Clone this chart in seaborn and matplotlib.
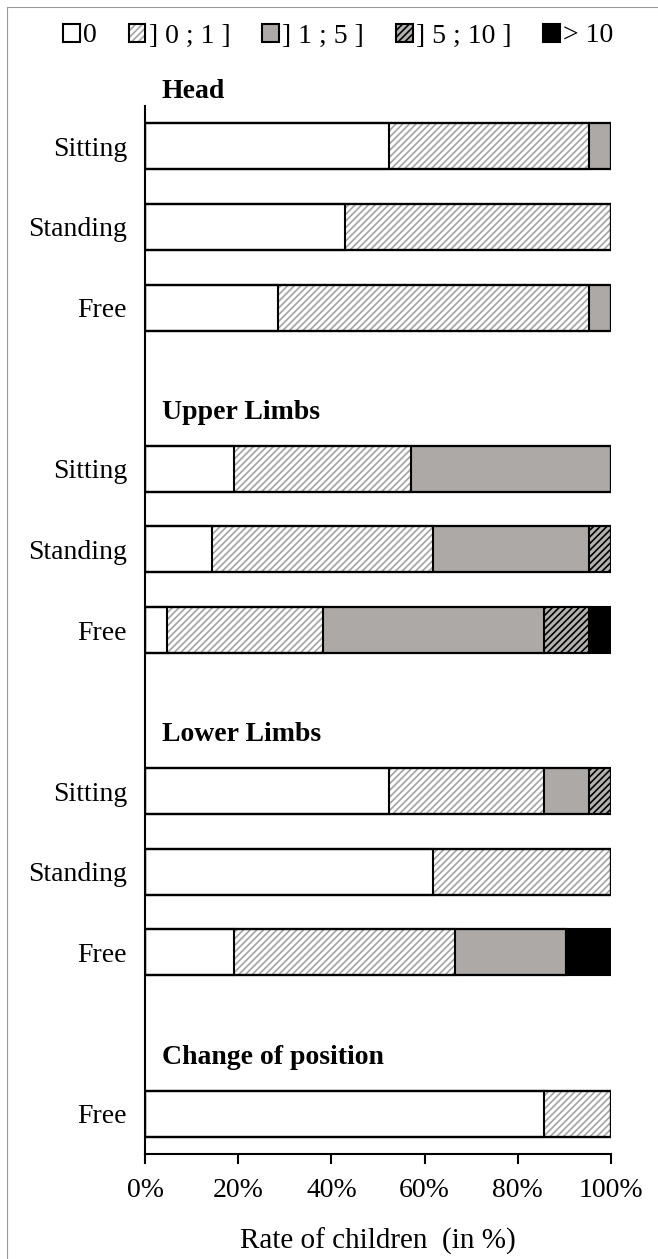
import numpy as np
import pandas as pd
import matplotlib
matplotlib.use("Agg")
import matplotlib.pyplot as plt
import seaborn as sns
from matplotlib.patches import Patch
from matplotlib.lines import Line2D
from matplotlib.ticker import PercentFormatter

# Data: share of children (in %) per class of duration
groups = ["Head", "Head", "Head", "Upper Limbs", "Upper Limbs", "Upper Limbs",
          "Lower Limbs", "Lower Limbs", "Lower Limbs", "Change of position"]
positions = ["Sitting", "Standing", "Free", "Sitting", "Standing", "Free",
             "Sitting", "Standing", "Free", "Free"]
zero = [52.4, 42.9, 28.6, 19.0, 14.3, 4.8, 52.4, 61.9, 19.0, 85.7]
up_to_1 = [42.8, 57.1, 66.6, 38.1, 47.6, 33.3, 33.3, 38.1, 47.6, 14.3]
one_to_5 = [4.8, 0.0, 4.8, 42.9, 33.3, 47.6, 9.5, 0.0, 23.8, 0.0]
five_to_10 = [0.0, 0.0, 0.0, 0.0, 4.8, 9.5, 4.8, 0.0, 0.0, 0.0]
over_10 = [0.0, 0.0, 0.0, 0.0, 0.0, 4.8, 0.0, 0.0, 9.6, 0.0]

class_labels = ["0", "] 0 ; 1 ]", "] 1 ; 5 ]", "] 5 ; 10 ]", "> 10"]
group_titles = ["Head", "Upper Limbs", "Lower Limbs", "Change of position"]

# styles per class: face colour, hatch, hatch colour
face = ["white", "white", "#ADA9A7", "#B4B2B0", "black"]
hatches = [None, "/////", None, "/////", None]
hatch_col = ["white", "#A3A3A3", "#ADA9A7", "black", "black"]

# slot names, with one empty slot between groups
slots = []
for i, (g, p) in enumerate(zip(groups, positions)):
    if i > 0 and g != groups[i - 1]:
        slots.append("gap_" + g)
    slots.append(g + " " + p)
row_slots = [g + " " + p for g, p in zip(groups, positions)]

df = pd.DataFrame({"slot": row_slots, "c0": zero, "c1": up_to_1,
                   "c2": one_to_5, "c3": five_to_10, "c4": over_10})
cum = df[["c0", "c1", "c2", "c3", "c4"]].cumsum(axis=1)
cum.columns = ["s0", "s1", "s2", "s3", "s4"]
df = pd.concat([df, cum], axis=1)

sns.set_theme(style="white")
plt.rcParams["font.family"] = ["Liberation Serif", "DejaVu Serif"]
plt.rcParams["hatch.linewidth"] = 1.2
plt.rcParams["text.color"] = "black"
plt.rcParams["axes.labelcolor"] = "black"
plt.rcParams["xtick.color"] = "black"
plt.rcParams["ytick.color"] = "black"

fig = plt.figure(figsize=(6.58, 12.59), dpi=100)
ax = fig.add_axes([145 / 658, 1 - 1154 / 1259, 466 / 658, (1154 - 106) / 1259])

bw = 0.57
# fills: largest cumulative first so each class covers the next
for k in range(4, -1, -1):
    sns.barplot(data=df, x="s%d" % k, y="slot", order=slots, orient="h",
                color=face[k], saturation=1, errorbar=None, width=bw,
                hatch=hatches[k], edgecolor=hatch_col[k], linewidth=0, ax=ax)
# outlines
for k in range(5):
    sns.barplot(data=df, x="s%d" % k, y="slot", order=slots, orient="h",
                fill=False, color="black", errorbar=None, width=bw,
                linewidth=1.5, ax=ax)

ax.set_xlim(0, 100)
ax.set_ylim(len(slots) - 0.5, -0.5)
ax.set_xticks([0, 20, 40, 60, 80, 100])
ax.xaxis.set_major_formatter(PercentFormatter(xmax=100, decimals=0))
ax.set_yticks(range(len(slots)))
ax.set_yticklabels(["" if s.startswith("gap_") else s.split(" ")[-1] for s in slots])
ax.set_ylabel("")
ax.set_xlabel("Rate of children  (in %)", fontsize=21, labelpad=18)
ax.tick_params(axis="y", length=0, pad=13, labelsize=20)
ax.tick_params(axis="x", direction="out", length=7, width=1.5, pad=10,
               labelsize=20, bottom=True, color="black")
for s in ["top", "right"]:
    ax.spines[s].set_visible(False)
for s in ["left", "bottom"]:
    ax.spines[s].set_color("black")
    ax.spines[s].set_linewidth(1.5)

# group titles
title_y = [-0.68] + [slots.index("gap_" + g) + 0.3 for g in group_titles[1:]]
for t, y in zip(group_titles, title_y):
    ax.text(3.6, y, t, fontsize=20, fontweight="bold", va="center", ha="left")

# legend
handles = []
for k in range(5):
    fill_p = Patch(facecolor=face[k], hatch=hatches[k], edgecolor=hatch_col[k], linewidth=0)
    edge_p = Patch(facecolor="none", edgecolor="black", linewidth=1.5)
    handles.append((fill_p, edge_p))
fig.legend(handles, class_labels, loc="center", bbox_to_anchor=(0.514, 1 - 36 / 1259),
           ncol=5, frameon=False, fontsize=20, handlelength=0.6, handleheight=0.6,
           handletextpad=0.12, columnspacing=1.15, borderaxespad=0)

# light frame around the figure
fig.add_artist(Line2D([7 / 658, 1], [1 - 7 / 1259] * 2, transform=fig.transFigure,
                      color="#9A9A9A", linewidth=0.8))
fig.add_artist(Line2D([7 / 658] * 2, [0, 1 - 7 / 1259], transform=fig.transFigure,
                      color="#9A9A9A", linewidth=0.8))

fig.savefig("out.png", dpi=100)
